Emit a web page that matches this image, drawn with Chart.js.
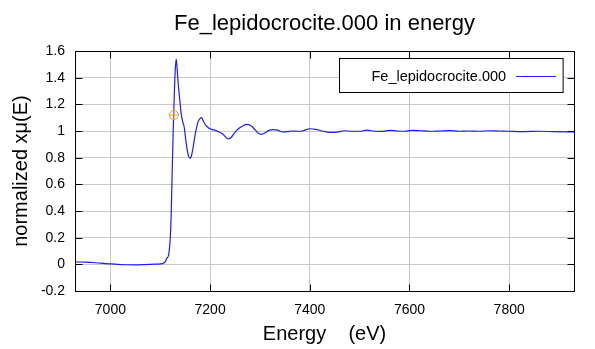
<!DOCTYPE html>
<html><head><meta charset="utf-8">
<script src="https://cdn.jsdelivr.net/npm/chart.js@4.4.1/dist/chart.umd.min.js"></script>
<style>html,body{margin:0;padding:0;background:#fff}#wrap{width:595px;height:349px}</style>
</head><body><div id="wrap"><canvas id="c" width="595" height="349"></canvas></div>
<script>
const titleText = 'Fe_lepidocrocite.000 in energy';
const seriesLabel = 'Fe_lepidocrocite.000';
const xTitle = 'Energy    (eV)';
const yTitle = 'normalized x\u03bc(E)';
const energy = [6929,6950,6970,6990,7010,7030,7050,7070,7090,7100,7106,7110,7113,7116,7118,7120,7122,7124,7126,7128,7130,7132,7134,7136,7139,7142,7145,7148,7151,7154,7157,7160,7163,7166,7169,7172,7176,7180,7183,7187,7192,7198,7205,7212,7219,7226,7232,7237,7243,7250,7258,7266,7274,7282,7290,7296,7303,7310,7318,7326,7335,7345,7355,7365,7375,7385,7400,7412,7425,7440,7455,7470,7485,7500,7515,7530,7545,7560,7575,7590,7605,7620,7640,7660,7680,7700,7720,7740,7760,7780,7800,7830,7860,7890,7930];
const normMu = [0.018,0.016,0.012,0.006,0.001,-0.003,-0.004,-0.002,0.001,0.003,0.008,0.02,0.045,0.06,0.1,0.19,0.38,0.7,1.0,1.25,1.45,1.54,1.46,1.36,1.24,1.13,1.07,1.03,0.94,0.86,0.81,0.795,0.82,0.88,0.95,1.01,1.07,1.095,1.10,1.07,1.04,1.02,1.01,1.003,0.99,0.975,0.95,0.94,0.955,0.99,1.02,1.04,1.05,1.04,1.01,0.985,0.975,0.985,1.005,1.01,1.007,0.993,0.995,1.0,0.998,1.0,1.017,1.012,1.0,0.99,0.992,1.002,0.998,0.998,1.006,0.998,0.997,1.005,1.0,0.998,1.004,1.002,0.998,1.0,1.003,0.998,1.0,0.998,1.002,1.0,0.998,0.996,0.998,0.995,0.993];
const e0Energy = [7127.4];
const e0Value = [1.12];
const xTicks = [7000,7200,7400,7600,7800];
const yTicks = [-0.2,0,0.2,0.4,0.6,0.8,1,1.2,1.4,1.6];
const xMin = 6929, xMax = 7930, yMin = -0.2, yMax = 1.6;

const lineColor = '#1c1cff';
const markColor = '#f0a020';
const FONT = '"Liberation Sans", Arial, sans-serif';

const framePlugin = {
  id: 'frame',
  afterDraw(chart) {
    const {ctx, chartArea: a, scales: {x, y}} = chart;
    const L = Math.round(a.left) + 0.5, R = Math.round(a.right) + 0.5;
    const T = Math.round(a.top) + 0.5, B = Math.round(a.bottom) + 0.5;
    ctx.save();
    ctx.strokeStyle = '#000';
    ctx.lineWidth = 1;
    ctx.beginPath();
    x.ticks.forEach(t => {
      const px = Math.round(x.getPixelForValue(t.value)) + 0.5;
      ctx.moveTo(px, B); ctx.lineTo(px, B - 7);
      ctx.moveTo(px, T); ctx.lineTo(px, T + 7);
    });
    y.ticks.forEach(t => {
      const py = Math.round(y.getPixelForValue(t.value)) + 0.5;
      ctx.moveTo(L, py); ctx.lineTo(L + 7, py);
      ctx.moveTo(R, py); ctx.lineTo(R - 7, py);
    });
    ctx.stroke();
    ctx.strokeRect(L, T, R - L, B - T);

    // chart title centred over the plot area
    ctx.fillStyle = '#000';
    ctx.font = '22px ' + FONT;
    ctx.textAlign = 'center';
    ctx.textBaseline = 'alphabetic';
    ctx.fillText(titleText, (a.left + a.right) / 2, 30);

    // legend box
    const label = chart.data.datasets[0].label;
    ctx.font = '14.5px ' + FONT;
    const tw = ctx.measureText(label).width;
    const bw = 32 + tw + 10 + 40 + 7;
    const bh = 34;
    const bx = Math.round(R - 12 - bw) + 0.5, by = T + 7;
    ctx.fillStyle = '#fff';
    ctx.fillRect(bx, by, bw, bh);
    ctx.strokeRect(bx, by, bw, bh);
    ctx.fillStyle = '#000';
    ctx.textBaseline = 'middle';
    ctx.textAlign = 'left';
    ctx.fillText(label, bx + 32, by + bh / 2 + 1);
    ctx.strokeStyle = chart.data.datasets[0].borderColor;
    ctx.beginPath();
    const ly = Math.round(by + bh / 2) + 0.5;
    ctx.moveTo(bx + 32 + tw + 10, ly); ctx.lineTo(bx + 32 + tw + 50, ly);
    ctx.stroke();
    ctx.restore();
  }
};

new Chart(document.getElementById('c'), {
  type: 'scatter',
  data: {
    datasets: [
      {
        label: seriesLabel,
        data: energy.map((e, i) => ({x: e, y: normMu[i]})),
        showLine: true,
        borderColor: lineColor,
        backgroundColor: lineColor,
        borderWidth: 1.2,
        pointRadius: 0,
        cubicInterpolationMode: 'monotone',
        order: 2
      },
      {
        label: 'e0 circle',
        data: e0Energy.map((e, i) => ({x: e, y: e0Value[i]})),
        pointStyle: 'circle',
        pointRadius: 4.5,
        borderColor: markColor,
        backgroundColor: 'rgba(0,0,0,0)',
        borderWidth: 1,
        order: 1
      },
      {
        label: 'e0 cross',
        data: e0Energy.map((e, i) => ({x: e, y: e0Value[i]})),
        pointStyle: 'cross',
        pointRadius: 4.5,
        borderColor: markColor,
        borderWidth: 1,
        order: 0
      }
    ]
  },
  options: {
    responsive: false,
    animation: false,
    devicePixelRatio: 1,
    layout: {padding: {top: 51, right: 21, left: 0, bottom: 0}},
    plugins: {
      legend: {display: false},
      tooltip: {enabled: false},
      title: {display: false}
    },
    scales: {
      x: {
        type: 'linear',
        min: xMin, max: xMax,
        afterBuildTicks: s => { s.ticks = xTicks.map(v => ({value: v})); },
        afterFit: s => { s.height = 58; },
        ticks: {color: '#000', font: {family: FONT, size: 14}, padding: 11, callback: v => String(v), maxRotation: 0},
        grid: {color: '#c8c8c8', drawTicks: false, lineWidth: 1},
        border: {display: false},
        title: {display: true, text: xTitle, color: '#000', font: {family: FONT, size: 20}, padding: 3}
      },
      y: {
        type: 'linear',
        min: yMin, max: yMax,
        afterBuildTicks: s => { s.ticks = yTicks.map(v => ({value: v})); },
        afterFit: s => { s.width = 75; },
        ticks: {color: '#000', font: {family: FONT, size: 14}, padding: 10, callback: v => String(Math.round(v * 10) / 10)},
        grid: {color: '#c8c8c8', drawTicks: false, lineWidth: 1},
        border: {display: false},
        title: {display: true, text: yTitle, color: '#000', font: {family: FONT, size: 20}, padding: 9}
      }
    }
  },
  plugins: [framePlugin]
});
</script>
</body></html>
